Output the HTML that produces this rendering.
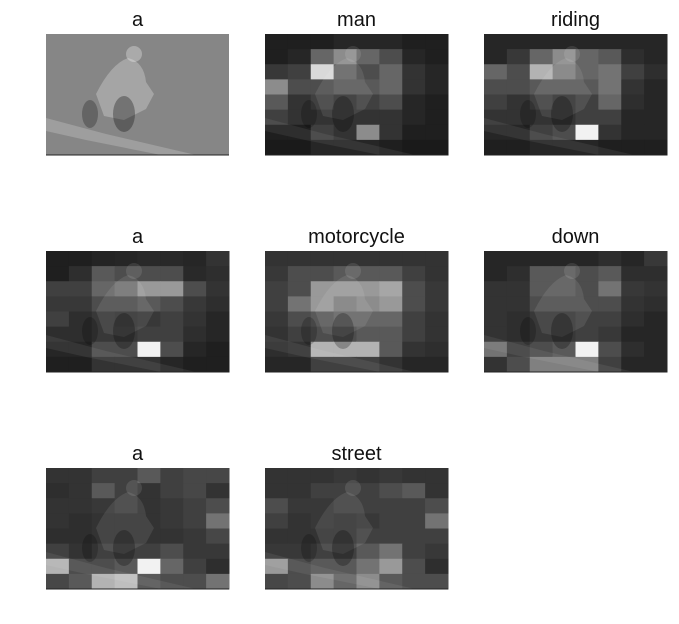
<!DOCTYPE html>
<html><head><meta charset="utf-8"><style>
body{margin:0;background:#fff;width:679px;height:624px;overflow:hidden}
svg{display:block}
</style></head><body>
<svg id="fig" width="679" height="624" font-family="Liberation Sans, DejaVu Sans, sans-serif"></svg>
<script>
const words = ["a","man","riding","a","motorcycle","down","a","street"];
const attA1 = null;
const attMan = [
[.12,.12,.12,.15,.15,.15,.12,.12],[.12,.15,.4,.55,.4,.3,.15,.12],[.22,.25,.85,.4,.3,.4,.2,.15],[.55,.3,.3,.35,.35,.4,.2,.15],
[.35,.2,.25,.2,.25,.3,.15,.12],[.25,.2,.2,.2,.2,.2,.15,.12],[.12,.12,.25,.2,.55,.2,.12,.12],[.1,.1,.15,.15,.15,.12,.1,.1]];
const attRiding = [
[.15,.15,.15,.15,.15,.15,.15,.15],[.15,.22,.4,.55,.4,.35,.18,.15],[.4,.3,.7,.5,.4,.45,.25,.18],[.3,.3,.35,.35,.35,.45,.2,.15],
[.25,.2,.25,.2,.25,.4,.18,.15],[.2,.2,.2,.2,.25,.25,.15,.15],[.15,.15,.25,.3,.95,.2,.15,.15],[.12,.12,.15,.15,.15,.12,.12,.12]];
const attA2 = [
[.12,.12,.14,.15,.16,.16,.15,.2],[.12,.18,.35,.3,.3,.3,.16,.18],[.25,.25,.4,.45,.6,.6,.3,.2],[.22,.22,.3,.3,.35,.3,.22,.18],
[.25,.18,.22,.2,.22,.25,.2,.15],[.18,.18,.22,.22,.25,.25,.18,.15],[.15,.15,.3,.3,.95,.3,.15,.12],[.12,.12,.2,.2,.2,.15,.12,.12]];
const attMotorcycle = [
[.2,.2,.2,.2,.2,.2,.2,.2],[.22,.3,.3,.35,.35,.35,.25,.2],[.25,.3,.6,.6,.6,.65,.3,.22],[.25,.45,.6,.5,.55,.6,.3,.22],
[.22,.3,.35,.4,.4,.4,.25,.2],[.2,.25,.3,.3,.35,.35,.25,.2],[.18,.2,.7,.7,.7,.35,.2,.18],[.15,.15,.25,.25,.25,.2,.15,.15]];
const attDown = [
[.15,.15,.15,.15,.15,.18,.15,.22],[.15,.18,.35,.35,.3,.35,.18,.18],[.2,.2,.35,.35,.3,.45,.22,.2],[.2,.2,.3,.3,.3,.3,.2,.18],
[.2,.18,.22,.22,.25,.25,.18,.15],[.2,.18,.22,.22,.25,.22,.15,.15],[.45,.25,.3,.35,.95,.3,.18,.15],[.2,.3,.5,.5,.5,.25,.15,.15]];
const attA3 = [
[.2,.2,.25,.25,.35,.25,.28,.28],[.18,.2,.35,.25,.2,.25,.28,.2],[.2,.2,.22,.25,.2,.22,.25,.3],[.2,.18,.2,.2,.2,.22,.25,.45],
[.18,.18,.2,.2,.2,.2,.22,.28],[.25,.2,.25,.25,.25,.3,.22,.22],[.7,.3,.3,.35,.95,.4,.25,.18],[.28,.35,.7,.75,.35,.3,.3,.45]];
const attStreet = [
[.2,.2,.2,.22,.2,.22,.2,.2],[.2,.2,.25,.25,.25,.3,.35,.2],[.3,.22,.22,.25,.25,.25,.25,.3],[.25,.2,.22,.2,.22,.25,.25,.45],
[.2,.2,.2,.2,.25,.25,.25,.25],[.22,.22,.25,.25,.35,.45,.25,.22],[.6,.3,.35,.35,.45,.6,.3,.18],[.28,.3,.55,.4,.55,.35,.3,.3]];
const grids = [attA1, attMan, attRiding, attA2, attMotorcycle, attDown, attA3, attStreet];

const NS = "http://www.w3.org/2000/svg";
const svg = document.getElementById('fig');
const colX = [46,265,484], rowY = [34,251,468], PW = 183, PH = 121;
function mk(tag, attrs, parent){const e=document.createElementNS(NS,tag);for(const k in attrs)e.setAttribute(k,attrs[k]);parent.appendChild(e);return e;}
function gray(v){const c=Math.round(Math.max(0,Math.min(1,v))*255);return `rgb(${c},${c},${c})`;}

words.forEach((w,i)=>{
  const x0 = colX[i%3], y0 = rowY[Math.floor(i/3)];
  const g = mk('g',{transform:`translate(${x0},${y0})`},svg);
  
  
  const t = mk('text',{x:PW/2,y:-8,'text-anchor':'middle','font-size':20,fill:'#111'},g);
  t.textContent = w;
  
  
  const grid = grids[i];
  if(!grid){
    const bg = mk('rect',{x:0,y:0,width:PW,height:PH,fill:'#868686'},g);
    
    
  } else {
    const n = grid.length, m = grid[0].length;
    const cw = PW/m, ch = PH/n;
    grid.forEach((row,r)=>row.forEach((v,c)=>{
      const cell = mk('rect',{x:c*cw,y:r*ch,width:cw+0.5,height:ch+0.5,fill:gray(v)},g);
      
      
    }));
  }
  const op = grid ? 0.07 : 0.2;
  mk('path',{d:`M0,84 L60,100 L150,121 L115,121 L40,106 L0,97 Z`,fill:'#fff',opacity:op},g);
  mk('path',{d:`M50,60 Q65,30 82,24 Q98,28 100,48 L108,60 L100,75 L78,86 L58,82 Z`,fill:'#fff',opacity:op*1.3},g);
  mk('circle',{cx:88,cy:20,r:8,fill:'#fff',opacity:op*1.5},g);
  mk('ellipse',{cx:78,cy:80,rx:11,ry:18,fill:'#000',opacity:grid?0.25:0.3},g);
  mk('ellipse',{cx:44,cy:80,rx:8,ry:14,fill:'#000',opacity:grid?0.2:0.25},g);
  mk('line',{x1:0,y1:PH,x2:PW,y2:PH,stroke:'#222','stroke-width':1},g);
});
</script>
</body></html>
